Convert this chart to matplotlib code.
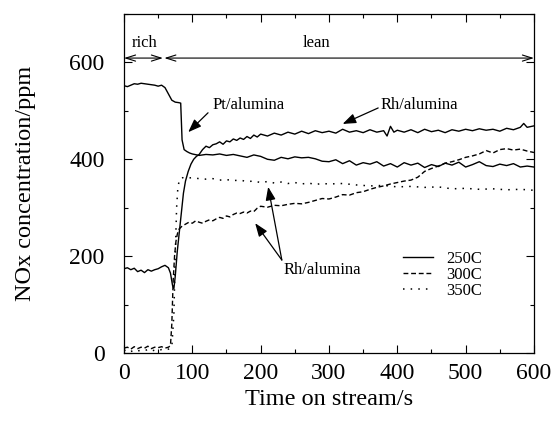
import matplotlib
matplotlib.use("Agg")
import matplotlib.pyplot as plt
from matplotlib.ticker import MultipleLocator

plt.rcParams['font.family'] = ['Liberation Serif', 'DejaVu Serif']

# Pt/alumina 250C (duz cizgi)
pt_t = [0, 5, 10, 15, 20, 25, 30, 35, 40, 45, 50, 55, 60, 65, 70, 75, 80, 83, 85, 88, 92, 96,
        100, 110, 120, 130, 140, 150, 160, 170, 180, 190, 200, 210, 220, 230, 240, 250, 260,
        270, 280, 290, 300, 310, 320, 330, 340, 350, 360, 370, 380, 390, 400, 410, 420, 430,
        440, 450, 460, 470, 480, 490, 500, 510, 520, 530, 540, 550, 560, 570, 580, 590, 600]
pt_250 = [552, 550, 553, 556, 555, 557, 556, 555, 554, 553, 551, 553, 548, 535, 522, 518, 517,
          516, 440, 420, 416, 413, 411, 408, 410, 409, 411, 408, 410, 407, 404, 409, 406, 400,
          398, 404, 401, 405, 403, 404, 401, 396, 395, 399, 391, 397, 388, 393, 390, 395, 386,
          391, 384, 393, 388, 392, 383, 389, 385, 392, 388, 394, 384, 389, 395, 387, 385, 390,
          387, 391, 384, 386, 384]

# Rh/alumina 250C
rh_t = [0, 5, 10, 15, 20, 25, 30, 35, 40, 45, 50, 55, 60, 65, 68, 71, 73, 75, 78, 81, 84, 87,
        90, 94, 98, 102, 106, 110, 115, 120, 125, 130, 135, 140, 145, 150, 155, 160, 165, 170,
        175, 180, 185, 190, 195, 200, 210, 220, 230, 240, 250, 260, 270, 280, 290, 300, 310,
        320, 330, 340, 350, 360, 370, 380, 385, 390, 395, 400, 410, 420, 430, 440, 450, 460,
        470, 480, 490, 500, 510, 520, 530, 540, 550, 560, 570, 580, 585, 590, 600]
rh_250 = [174, 176, 172, 175, 168, 171, 166, 172, 169, 172, 174, 178, 181, 176, 165, 140, 133,
          158, 210, 250, 290, 330, 355, 375, 390, 400, 406, 410, 420, 427, 424, 430, 432, 436,
          431, 438, 436, 442, 439, 444, 441, 447, 443, 450, 446, 452, 448, 454, 450, 456, 452,
          458, 453, 459, 455, 458, 454, 462, 456, 459, 455, 461, 456, 459, 448, 468, 456, 460,
          456, 461, 455, 462, 457, 460, 455, 461, 458, 462, 459, 463, 460, 462, 458, 464, 461,
          466, 474, 466, 469]

# Rh/alumina 300C
r3_t = [0, 5, 10, 15, 20, 25, 30, 35, 40, 45, 50, 55, 60, 65, 68, 70, 72, 74, 76, 78, 80, 85,
        90, 95, 100, 105, 110, 115, 120, 125, 130, 135, 140, 145, 150, 155, 160, 165, 170, 175,
        180, 185, 190, 195, 200, 210, 220, 230, 240, 250, 260, 270, 280, 290, 300, 310, 320,
        330, 340, 350, 360, 370, 380, 390, 400, 410, 420, 430, 440, 450, 460, 470, 480, 490,
        500, 510, 520, 530, 540, 550, 560, 570, 580, 590, 600]
rh_300 = [10, 12, 8, 13, 9, 12, 10, 14, 9, 12, 11, 13, 10, 12, 15, 60, 150, 200, 230, 245, 255,
          262, 266, 270, 268, 273, 270, 268, 272, 275, 273, 277, 280, 278, 283, 281, 286, 289,
          288, 291, 289, 293, 292, 299, 303, 301, 305, 304, 307, 309, 308, 311, 315, 319, 318,
          322, 327, 326, 331, 333, 338, 342, 345, 349, 352, 355, 357, 363, 375, 381, 386, 392,
          395, 399, 404, 407, 411, 418, 413, 420, 422, 419, 421, 417, 414]

# Rh/alumina 350C
r4_t = [0, 5, 10, 15, 20, 25, 30, 35, 40, 45, 50, 55, 60, 65, 70, 73, 75, 77, 79, 82, 86, 90,
        100, 110, 120, 130, 140, 150, 160, 170, 180, 190, 200, 210, 220, 230, 240, 250, 260,
        270, 280, 290, 300, 320, 340, 360, 380, 400, 420, 440, 460, 480, 500, 520, 540, 560,
        580, 600]
rh_350 = [5, 7, 3, 6, 4, 6, 5, 7, 4, 6, 5, 7, 6, 8, 12, 80, 200, 300, 345, 360, 362, 361, 362,
          360, 359, 360, 357, 358, 356, 357, 354, 355, 352, 354, 351, 353, 350, 352, 349, 351,
          348, 350, 349, 350, 347, 345, 346, 343, 344, 342, 343, 339, 340, 338, 339, 337, 338,
          336]

fig = plt.figure(figsize=(5.55, 4.23), dpi=100)
ax = fig.add_axes([0.2234, 0.1655, 0.7387, 0.8014])

ax.plot(pt_t, pt_250, color='black', lw=1.0, label='250C')
ax.plot(rh_t, rh_250, color='black', lw=1.0)
ax.plot(r3_t, rh_300, color='black', lw=1.0, ls=(0, (3.5, 2)), label='300C')
ax.plot(r4_t, rh_350, color='black', lw=1.1, ls=(0, (1, 4)), label='350C')

ax.set_xlim(0, 600)
ax.set_ylim(0, 700)
ax.xaxis.set_major_locator(MultipleLocator(100))
ax.xaxis.set_minor_locator(MultipleLocator(50))
ax.yaxis.set_major_locator(MultipleLocator(200))
ax.yaxis.set_minor_locator(MultipleLocator(100))
ax.tick_params(which='both', direction='in', top=True, right=True, labelsize=17, width=0.8)
ax.tick_params(which='major', length=6)
ax.tick_params(axis='x', which='major', pad=7)
ax.tick_params(axis='y', which='major', pad=14)
ax.tick_params(which='minor', length=3)
for s in ax.spines.values():
    s.set_linewidth(0.9)

ax.set_xlabel('Time on stream/s', fontsize=17.5, labelpad=4)
ax.set_ylabel('NOx concentration/ppm', fontsize=17.5, labelpad=24)

# rich / lean oklari
ak = dict(arrowstyle='<->, head_length=0.7, head_width=0.22', color='black', lw=0.8,
          shrinkA=0, shrinkB=0)
ax.annotate('', xy=(0, 609), xytext=(57, 609), arrowprops=ak)
ax.annotate('', xy=(59, 609), xytext=(600, 609), arrowprops=ak)
ax.text(30, 640, 'rich', fontsize=12, ha='center', va='center')
ax.text(282, 640, 'lean', fontsize=12, ha='center', va='center')

ok = dict(arrowstyle='-|>, head_length=0.8, head_width=0.3', color='black', lw=0.9,
          shrinkA=0, shrinkB=0)
ax.text(129, 512, 'Pt/alumina', fontsize=12, ha='left', va='center')
ax.annotate('', xy=(94, 456), xytext=(123, 496), arrowprops=ok)
ax.text(375, 512, 'Rh/alumina', fontsize=12, ha='left', va='center')
ax.annotate('', xy=(320, 473), xytext=(372, 506), arrowprops=ok)
ax.text(233, 171, 'Rh/alumina', fontsize=12, ha='left', va='center')
ax.annotate('', xy=(192, 268), xytext=(231, 192), arrowprops=ok)
ax.annotate('', xy=(211, 343), xytext=(231, 192), arrowprops=ok)

ax.legend(loc='upper left', bbox_to_anchor=(0.665, 0.32), frameon=False, fontsize=12,
          handlelength=1.8, handletextpad=0.8, labelspacing=0.0, borderaxespad=0)

fig.savefig('out.png', dpi=100)
